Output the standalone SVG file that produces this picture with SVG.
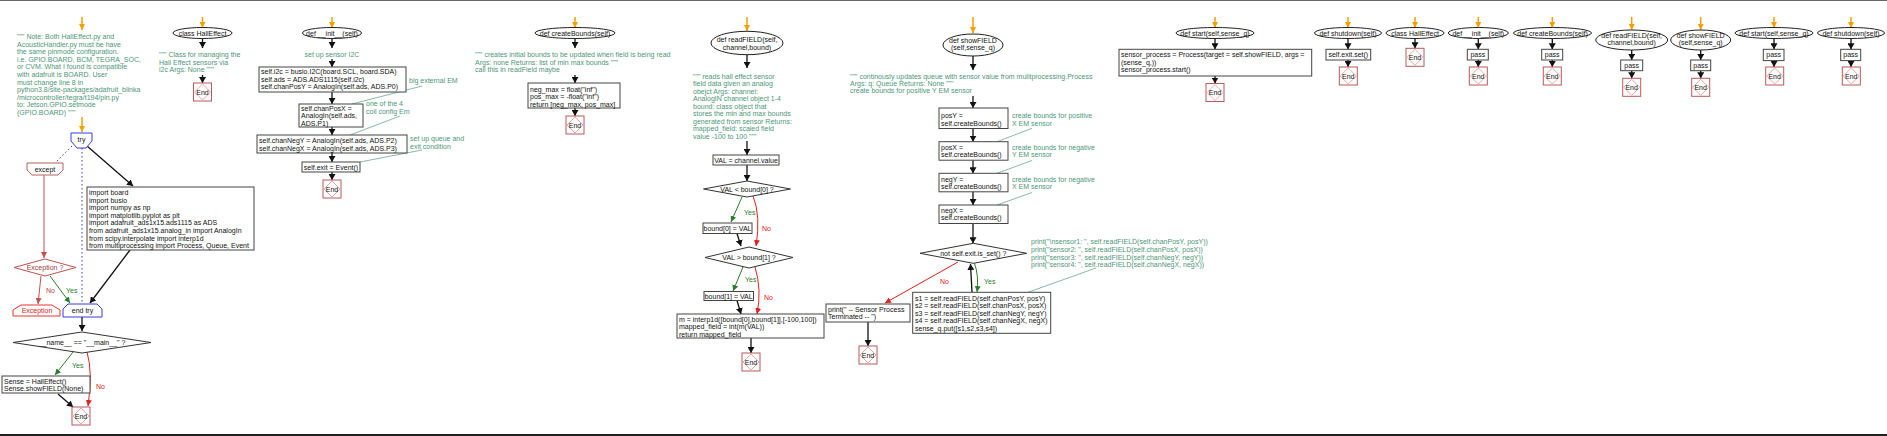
<svg xmlns="http://www.w3.org/2000/svg" width="1887" height="436" viewBox="0 0 1887 436">
<style>
text{font-family:"Liberation Sans",Arial,sans-serif;font-size:7px;fill:#111}
.c{fill:#4e967a}
.m{text-anchor:middle}
.n{fill:#fff;stroke:#444;stroke-width:1}
.el{fill:#fff;stroke:#222;stroke-width:1}
.er{fill:#fff;stroke:#b85a5a;stroke-width:1}
.ed{fill:none;stroke:#e8a8a8;stroke-width:1}
.k{stroke:#111;stroke-width:1.3;fill:none}
.o{stroke:#f5a000;stroke-width:1.5;fill:none}
.g{stroke:#2a7d2a;stroke-width:1;fill:none}
.r{stroke:#e02020;stroke-width:1;fill:none}
.rb{stroke:#c05050;stroke-width:1;fill:none}
.cl{stroke:#6aa890;stroke-width:0.8;fill:none}
.bd{stroke:#3a3ae0;stroke-width:1;stroke-dasharray:1.5,2.5;fill:none}
.gt{fill:#2a7d2a}
.rt{fill:#e02020}
.rbt{fill:#b04848}
</style>
<defs>
<marker id="ab" viewBox="0 0 10 10" refX="10" refY="5" markerWidth="6" markerHeight="7" orient="auto" markerUnits="userSpaceOnUse" preserveAspectRatio="none"><path d="M0,0L10,5L0,10z" fill="#111"/></marker>
<marker id="ao" viewBox="0 0 10 10" refX="10" refY="5" markerWidth="6" markerHeight="6" orient="auto" markerUnits="userSpaceOnUse" preserveAspectRatio="none"><path d="M0,0L10,5L0,10z" fill="#f5a000"/></marker>
<marker id="ag" viewBox="0 0 10 10" refX="10" refY="5" markerWidth="6" markerHeight="6" orient="auto" markerUnits="userSpaceOnUse" preserveAspectRatio="none"><path d="M0,0L10,5L0,10z" fill="#2a7d2a"/></marker>
<marker id="ar" viewBox="0 0 10 10" refX="10" refY="5" markerWidth="6" markerHeight="6" orient="auto" markerUnits="userSpaceOnUse" preserveAspectRatio="none"><path d="M0,0L10,5L0,10z" fill="#e02020"/></marker>
<marker id="arb" viewBox="0 0 10 10" refX="10" refY="5" markerWidth="6" markerHeight="6" orient="auto" markerUnits="userSpaceOnUse" preserveAspectRatio="none"><path d="M0,0L10,5L0,10z" fill="#c05050"/></marker>
</defs>
<rect x="0" y="0" width="1887" height="436" fill="#fff"/>
<line x1="0" y1="0.5" x2="1887" y2="0.5" stroke="#666" stroke-width="1"/>
<line x1="0" y1="435" x2="1887" y2="435" stroke="#222" stroke-width="2"/>

<g id="connectors">
<!-- main -->
<line class="o" x1="82" y1="17" x2="82" y2="30" marker-end="url(#ao)"/>
<line class="o" x1="82" y1="117" x2="82" y2="132" marker-end="url(#ao)"/>
<line class="k" x1="87" y1="146" x2="133" y2="186" marker-end="url(#ab)"/>
<line class="bd" x1="72" y1="146" x2="55" y2="163"/>
<line class="bd" x1="82" y1="148" x2="82" y2="303"/>
<line class="rb" x1="44" y1="175" x2="44" y2="258" marker-end="url(#arb)"/>
<line class="rb" x1="41" y1="276" x2="38" y2="304" marker-end="url(#arb)"/>
<line class="g" x1="50" y1="276" x2="70" y2="303" marker-end="url(#ag)"/>
<line class="k" x1="130" y1="250" x2="90" y2="303" marker-end="url(#ab)"/>
<line class="k" x1="82" y1="317" x2="82" y2="331" marker-end="url(#ab)"/>
<line class="g" x1="73" y1="352" x2="55" y2="375" marker-end="url(#ag)"/>
<path class="r" d="M87,352 Q93,372 88,406" marker-end="url(#ar)"/>
<line class="k" x1="58" y1="394" x2="73" y2="407" marker-end="url(#ab)"/>
<!-- class HallEffect -->
<line class="o" x1="202.5" y1="17" x2="202.5" y2="28" marker-end="url(#ao)"/>
<line class="k" x1="202.5" y1="38.5" x2="202.5" y2="48" marker-end="url(#ab)"/>
<line class="k" x1="202.5" y1="75" x2="202.5" y2="83" marker-end="url(#ab)"/>
<!-- __init__ -->
<line class="o" x1="332" y1="17" x2="332" y2="28" marker-end="url(#ao)"/>
<line class="k" x1="332" y1="38.5" x2="332" y2="48" marker-end="url(#ab)"/>
<line class="k" x1="332" y1="59" x2="332" y2="67" marker-end="url(#ab)"/>
<line class="k" x1="332" y1="92" x2="332" y2="104" marker-end="url(#ab)"/>
<line class="k" x1="332" y1="127" x2="332" y2="135" marker-end="url(#ab)"/>
<line class="k" x1="332" y1="153" x2="332" y2="162" marker-end="url(#ab)"/>
<line class="k" x1="332" y1="172" x2="332" y2="180" marker-end="url(#ab)"/>
<line class="cl" x1="352" y1="104" x2="422" y2="86"/>
<line class="cl" x1="350" y1="135" x2="400" y2="116"/>
<line class="cl" x1="360" y1="162" x2="422" y2="150"/>
<!-- createBounds -->
<line class="o" x1="575" y1="17" x2="575" y2="28" marker-end="url(#ao)"/>
<line class="k" x1="575" y1="38.5" x2="575" y2="48" marker-end="url(#ab)"/>
<line class="k" x1="575" y1="75" x2="575" y2="83" marker-end="url(#ab)"/>
<line class="k" x1="575" y1="108" x2="575" y2="116" marker-end="url(#ab)"/>
<!-- readFIELD -->
<line class="o" x1="747" y1="17" x2="747" y2="31" marker-end="url(#ao)"/>
<line class="k" x1="747" y1="55" x2="747" y2="68" marker-end="url(#ab)"/>
<line class="k" x1="747" y1="141" x2="747" y2="155" marker-end="url(#ab)"/>
<line class="k" x1="747" y1="165" x2="747" y2="181" marker-end="url(#ab)"/>
<line class="g" x1="742" y1="197" x2="731" y2="222" marker-end="url(#ag)"/>
<path class="r" d="M753,196 Q761,216 756,246" marker-end="url(#ar)"/>
<line class="k" x1="737" y1="233.5" x2="741" y2="246" marker-end="url(#ab)"/>
<line class="g" x1="743" y1="267" x2="733" y2="291" marker-end="url(#ag)"/>
<path class="r" d="M755,267 Q762,290 757,314" marker-end="url(#ar)"/>
<line class="k" x1="737" y1="300.5" x2="741" y2="314" marker-end="url(#ab)"/>
<line class="k" x1="751" y1="338" x2="751" y2="353" marker-end="url(#ab)"/>
<!-- showFIELD -->
<line class="o" x1="973" y1="17" x2="973" y2="33" marker-end="url(#ao)"/>
<line class="k" x1="973" y1="56" x2="973" y2="70" marker-end="url(#ab)"/>
<line class="k" x1="973" y1="96" x2="973" y2="108" marker-end="url(#ab)"/>
<line class="k" x1="973" y1="128.5" x2="973" y2="141.7" marker-end="url(#ab)"/>
<line class="k" x1="973" y1="160.2" x2="973" y2="173.3" marker-end="url(#ab)"/>
<line class="k" x1="973" y1="191.8" x2="973" y2="205" marker-end="url(#ab)"/>
<line class="k" x1="973" y1="223.5" x2="973" y2="243.3" marker-end="url(#ab)"/>
<line class="cl" x1="997" y1="141.7" x2="1032" y2="128.3"/>
<line class="cl" x1="997" y1="173.3" x2="1032" y2="160.5"/>
<line class="cl" x1="997" y1="205" x2="1032" y2="192.5"/>
<path class="g" d="M974.5,263.3 Q979,276 977,292" marker-end="url(#ag)"/>
<line class="k" x1="972" y1="292" x2="970.5" y2="264" marker-end="url(#ab)"/>
<line class="r" x1="958" y1="262" x2="885" y2="303" marker-end="url(#ar)"/>
<line class="k" x1="868" y1="322" x2="868" y2="346" marker-end="url(#ab)"/>
<line class="cl" x1="1028" y1="292.3" x2="1096" y2="268"/>
<!-- start -->
<line class="o" x1="1215" y1="17" x2="1215" y2="28" marker-end="url(#ao)"/>
<line class="k" x1="1215" y1="38.5" x2="1215" y2="49.3" marker-end="url(#ab)"/>
<line class="k" x1="1215" y1="76" x2="1215" y2="83.5" marker-end="url(#ab)"/>
<!-- small -->
<line class="o" x1="1348" y1="17" x2="1348" y2="28" marker-end="url(#ao)"/>
<line class="k" x1="1348" y1="38.5" x2="1348" y2="49.3" marker-end="url(#ab)"/>
<line class="k" x1="1348" y1="60" x2="1348" y2="67" marker-end="url(#ab)"/>
<line class="o" x1="1415" y1="17" x2="1415" y2="28" marker-end="url(#ao)"/>
<line class="k" x1="1415" y1="38.5" x2="1415" y2="48.3" marker-end="url(#ab)"/>
<line class="o" x1="1478.3" y1="17" x2="1478.3" y2="28" marker-end="url(#ao)"/>
<line class="k" x1="1478.3" y1="38.5" x2="1478.3" y2="49.3" marker-end="url(#ab)"/>
<line class="k" x1="1478.3" y1="60" x2="1478.3" y2="67" marker-end="url(#ab)"/>
<line class="o" x1="1552.3" y1="17" x2="1552.3" y2="28" marker-end="url(#ao)"/>
<line class="k" x1="1552.3" y1="38.5" x2="1552.3" y2="49.3" marker-end="url(#ab)"/>
<line class="k" x1="1552.3" y1="60" x2="1552.3" y2="67" marker-end="url(#ab)"/>
<line class="o" x1="1631.7" y1="17" x2="1631.7" y2="30" marker-end="url(#ao)"/>
<line class="k" x1="1631.7" y1="50" x2="1631.7" y2="60" marker-end="url(#ab)"/>
<line class="k" x1="1631.7" y1="70.7" x2="1631.7" y2="78.3" marker-end="url(#ab)"/>
<line class="o" x1="1700.7" y1="17" x2="1700.7" y2="30" marker-end="url(#ao)"/>
<line class="k" x1="1700.7" y1="50" x2="1700.7" y2="60" marker-end="url(#ab)"/>
<line class="k" x1="1700.7" y1="70.7" x2="1700.7" y2="78.3" marker-end="url(#ab)"/>
<line class="o" x1="1774" y1="17" x2="1774" y2="28" marker-end="url(#ao)"/>
<line class="k" x1="1774" y1="38.5" x2="1774" y2="49.3" marker-end="url(#ab)"/>
<line class="k" x1="1774" y1="60.6" x2="1774" y2="67" marker-end="url(#ab)"/>
<line class="o" x1="1851" y1="17" x2="1851" y2="28" marker-end="url(#ao)"/>
<line class="k" x1="1851" y1="38.5" x2="1851" y2="49.3" marker-end="url(#ab)"/>
<line class="k" x1="1851" y1="60.6" x2="1851" y2="67" marker-end="url(#ab)"/>
</g>

<!-- main module -->
<g id="note">
<text class="c" x="17" y="39">""" Note: Both HallEffect.py and</text>
<text class="c" x="17" y="46.6">AcousticHandler.py must be have</text>
<text class="c" x="17" y="54.2">the same pinmode configuration.</text>
<text class="c" x="17" y="61.8">i.e. GPIO.BOARD, BCM, TEGRA_SOC,</text>
<text class="c" x="17" y="69.4">or CVM. What I found is compatible</text>
<text class="c" x="17" y="77">with adafruit is BOARD. User</text>
<text class="c" x="17" y="84.6">must change line 8 in</text>
<text class="c" x="17" y="92.2">python3.8/site-packages/adafruit_blinka</text>
<text class="c" x="17" y="99.8">/microcontroller/tegra/t194/pin.py</text>
<text class="c" x="17" y="107.4">to: Jetson.GPIO.setmode</text>
<text class="c" x="17" y="115">(GPIO.BOARD) """</text>
</g>
<g id="try">
<polygon points="71,133 92,133 92,141 86,148 77,148 71,141" fill="#fff" stroke="#3a3ae0"/>
<text class="m" x="81.5" y="142">try</text>
</g>
<g id="except">
<polygon points="27,163 63,163 63,170 58,175 32,175 27,170" fill="#fff" stroke="#b86060"/>
<text class="m" x="45" y="171.5">except</text>
</g>
<g id="imports">
<rect class="n" x="87" y="187" width="167" height="63"/>
<text x="89" y="195">import board</text>
<text x="89" y="202.6">import busio</text>
<text x="89" y="210.2">import numpy as np</text>
<text x="89" y="217.8">import matplotlib.pyplot as plt</text>
<text x="89" y="225.4">import adafruit_ads1x15.ads1115 as ADS</text>
<text x="89" y="233">from adafruit_ads1x15.analog_in import AnalogIn</text>
<text x="89" y="240.6">from scipy.interpolate import interp1d</text>
<text x="89" y="248.2">from multiprocessing import Process, Queue, Event</text>
</g>
<g id="exception-check">
<polygon points="14,267.5 45,259 76,267.5 45,276" fill="#fff" stroke="#c05050"/>
<text class="m" x="45" y="270" fill="#9a4040" style="fill:#9a4040">Exception ?</text>
<text class="rbt" x="46" y="292.5">No</text>
<text class="gt" x="66" y="292.5">Yes</text>
</g>
<g id="exception">
<polygon points="13,316 13,310 21,305 52,305 60,310 60,316" fill="#fff" stroke="#ee3333"/>
<text class="m" x="37" y="313" style="fill:#e02020">Exception</text>
</g>
<g id="endtry">
<polygon points="63,317 63,309 68,304 97,304 102,309 102,317" fill="#fff" stroke="#3a3ae0"/>
<text class="m" x="82.5" y="313">end try</text>
</g>
<g id="main-check">
<polygon points="13,342.5 82,332 151,342.5 82,353" fill="#fff" stroke="#333"/>
<text class="m" x="82" y="345">__name__ == "__main__" ?</text>
<text class="gt" x="72" y="367.5">Yes</text>
<text class="rt" x="96" y="388.5">No</text>
</g>
<g id="sense">
<rect class="n" x="2" y="376" width="88" height="17"/>
<text x="4" y="383.5">Sense = HallEffect()</text>
<text x="4" y="391">Sense.showFIELD(None)</text>
</g>
<g id="end-main">
<rect class="er" x="72" y="407" width="18" height="18"/>
<polygon class="ed" points="81,408 89,416 81,424 73,416"/>
<text class="m" x="81" y="418.5">End</text>
</g>

<!-- class HallEffect -->
<g id="class-halleffect">
<ellipse class="el" cx="202.5" cy="33" rx="29.5" ry="5.5"/>
<text class="m" x="202.5" y="35.5">class HallEffect</text>
</g>
<g id="class-doc">
<text class="c" x="159" y="57">""" Class for managing the</text>
<text class="c" x="159" y="64.7">Hall Effect sensors via</text>
<text class="c" x="159" y="72.4">i2c Args: None """</text>
</g>
<g id="end-class">
<rect class="er" x="193.5" y="83" width="18" height="18"/>
<polygon class="ed" points="202.5,84 210.5,92 202.5,100 194.5,92"/>
<text class="m" x="202.5" y="94.5">End</text>
</g>

<!-- __init__ -->
<g id="init">
<ellipse class="el" cx="332" cy="33" rx="29.5" ry="5.5"/>
<text class="m" x="332" y="35.5">def __init__(self)</text>
</g>
<g id="init-comment">
<text class="c m" x="332" y="56.8">set up sensor I2C</text>
</g>
<g id="init-box1">
<rect class="n" x="259" y="67" width="147" height="25"/>
<text x="261" y="74.2">self.i2c = busio.I2C(board.SCL, board.SDA)</text>
<text x="261" y="81.8">self.ads = ADS.ADS1115(self.i2c)</text>
<text x="261" y="89.4">self.chanPosY = AnalogIn(self.ads, ADS.P0)</text>
</g>
<text class="c" x="409" y="83">big external EM</text>
<g id="init-box2">
<rect class="n" x="299" y="104" width="64" height="23"/>
<text x="301" y="111">self.chanPosX =</text>
<text x="301" y="118.4">AnalogIn(self.ads,</text>
<text x="301" y="125.8">ADS.P1)</text>
</g>
<text class="c" x="366" y="106">one of the 4</text>
<text class="c" x="366" y="114">coil config Em</text>
<g id="init-box3">
<rect class="n" x="257" y="135" width="150" height="18"/>
<text x="259" y="143">self.chanNegY = AnalogIn(self.ads, ADS.P2)</text>
<text x="259" y="150.6">self.chanNegX = AnalogIn(self.ads, ADS.P3)</text>
</g>
<text class="c" x="410" y="141">set up queue and</text>
<text class="c" x="410" y="149">exit condition</text>
<g id="init-box4">
<rect class="n" x="302" y="162" width="58" height="10"/>
<text class="m" x="331" y="169.5">self.exit = Event()</text>
</g>
<g id="end-init">
<rect class="er" x="323" y="180" width="18" height="18"/>
<polygon class="ed" points="332,181 340,189 332,197 324,189"/>
<text class="m" x="332" y="191.5">End</text>
</g>

<!-- createBounds -->
<g id="createbounds">
<ellipse class="el" cx="575" cy="33" rx="40" ry="5.5"/>
<text class="m" x="575" y="35.5">def createBounds(self)</text>
</g>
<g id="createbounds-doc">
<text class="c" x="475" y="57">""" creates initial bounds to be updated when field is being read</text>
<text class="c" x="475" y="64.6">Args: none Returns: list of min max bounds """</text>
<text class="c" x="475" y="72.4">call this in readField maybe</text>
</g>
<g id="createbounds-box">
<rect class="n" x="528" y="83" width="92" height="25"/>
<text x="530" y="91.5">neg_max = float("inf")</text>
<text x="530" y="99">pos_max = -float("inf")</text>
<text x="530" y="106.5">return [neg_max, pos_max]</text>
</g>
<g id="end-createbounds">
<rect class="er" x="566" y="116" width="18" height="18"/>
<polygon class="ed" points="575,117 583,125 575,133 567,125"/>
<text class="m" x="575" y="127.5">End</text>
</g>

<!-- readFIELD -->
<g id="readfield">
<ellipse class="el" cx="747" cy="43" rx="36" ry="11.7"/>
<text class="m" x="747" y="42.2">def readFIELD(self,</text>
<text class="m" x="747" y="50">channel,bound)</text>
</g>
<g id="readfield-doc">
<text class="c" x="693" y="78.5">""" reads hall effect sensor</text>
<text class="c" x="693" y="86">field data given an analog</text>
<text class="c" x="693" y="93.6">obejct Args: channel:</text>
<text class="c" x="693" y="101.2">AnalogIN channel object 1-4</text>
<text class="c" x="693" y="108.7">bound: class object that</text>
<text class="c" x="693" y="116.3">stores the min and max bounds</text>
<text class="c" x="693" y="123.8">generated from sensor Returns:</text>
<text class="c" x="693" y="131.4">mapped_field: scaled field</text>
<text class="c" x="693" y="139">value -100 to 100 """</text>
</g>
<g id="val">
<rect class="n" x="713" y="155" width="66" height="10"/>
<text class="m" x="746" y="162.5">VAL = channel.value</text>
</g>
<g id="check-lt">
<polygon points="703.5,189 747,181 790.5,189 747,197" fill="#fff" stroke="#333"/>
<text class="m" x="747" y="191.5">VAL &lt; bound[0] ?</text>
<text class="gt" x="744" y="214.5">Yes</text>
<text class="rt" x="762" y="230.5">No</text>
</g>
<g id="set-b0">
<rect class="n" x="703" y="223" width="49" height="10.5"/>
<text class="m" x="727.5" y="230.5">bound[0] = VAL</text>
</g>
<g id="check-gt">
<polygon points="705,257.5 749,247 793,257.5 749,268" fill="#fff" stroke="#333"/>
<text class="m" x="749" y="260">VAL &gt; bound[1] ?</text>
<text class="gt" x="745" y="281.5">Yes</text>
<text class="rt" x="764" y="299.5">No</text>
</g>
<g id="set-b1">
<rect class="n" x="704" y="291.5" width="49.5" height="9"/>
<text class="m" x="728.7" y="298.5">bound[1] = VAL</text>
</g>
<g id="interp">
<rect class="n" x="677" y="314" width="147" height="24"/>
<text x="679" y="321.5">m = interp1d([bound[0],bound[1]],[-100,100])</text>
<text x="679" y="329">mapped_field = int(m(VAL))</text>
<text x="679" y="336.5">return mapped_field</text>
</g>
<g id="end-readfield">
<rect class="er" x="742" y="353" width="18" height="18"/>
<polygon class="ed" points="751,354 759,362 751,370 743,362"/>
<text class="m" x="751" y="364.5">End</text>
</g>

<!-- showFIELD -->
<g id="showfield">
<ellipse class="el" cx="973" cy="45" rx="30" ry="11"/>
<text class="m" x="973" y="42.8">def showFIELD</text>
<text class="m" x="973" y="50.2">(self,sense_q)</text>
</g>
<g id="showfield-doc">
<text class="c" x="850" y="78.5">""" continously updates queue with sensor value from mulitprocessing.Process</text>
<text class="c" x="850" y="85.8">Args: q: Queue Returns: None """</text>
<text class="c" x="850" y="93.2">create bounds for positive Y EM sensor</text>
</g>
<g id="posy">
<rect class="n" x="939" y="108" width="69" height="20.5"/>
<text x="941" y="118.2">posY =</text>
<text x="941" y="125.5">self.createBounds()</text>
</g>
<text class="c" x="1012" y="118.2">create bounds for positive</text>
<text class="c" x="1012" y="125.5">X EM sensor</text>
<g id="posx">
<rect class="n" x="939" y="141.7" width="69" height="18.5"/>
<text x="941" y="149.5">posX =</text>
<text x="941" y="156.8">self.createBounds()</text>
</g>
<text class="c" x="1012" y="149.5">create bounds for negative</text>
<text class="c" x="1012" y="156.8">Y EM sensor</text>
<g id="negy">
<rect class="n" x="939" y="173.3" width="69" height="18.5"/>
<text x="941" y="181.5">negY =</text>
<text x="941" y="188.8">self.createBounds()</text>
</g>
<text class="c" x="1012" y="181.5">create bounds for negative</text>
<text class="c" x="1012" y="188.8">X EM sensor</text>
<g id="negx">
<rect class="n" x="939" y="205" width="69" height="18.5"/>
<text x="941" y="213">negX =</text>
<text x="941" y="220.3">self.createBounds()</text>
</g>
<g id="loop-check">
<polygon points="920,253.3 973.3,243.3 1026.7,253.3 973.3,263.3" fill="#fff" stroke="#333"/>
<text class="m" x="973.3" y="256">not self.exit.is_set() ?</text>
<text class="gt" x="984" y="283.5">Yes</text>
<text class="rt" x="940" y="283.5">No</text>
</g>
<g id="terminated">
<rect class="n" x="826" y="304" width="84" height="18"/>
<text x="828" y="311.8">print(" -- Sensor Process</text>
<text x="828" y="319.4">Terminated -- ")</text>
</g>
<g id="end-showfield">
<rect class="er" x="859" y="346" width="18" height="18"/>
<polygon class="ed" points="868,347 876,355 868,363 860,355"/>
<text class="m" x="868" y="357.5">End</text>
</g>
<g id="readall">
<rect class="n" x="912.7" y="292.3" width="138" height="41"/>
<text x="915" y="300.8">s1 = self.readFIELD(self.chanPosY, posY)</text>
<text x="915" y="308.2">s2 = self.readFIELD(self.chanPosX, posX)</text>
<text x="915" y="315.8">s3 = self.readFIELD(self.chanNegY, negY)</text>
<text x="915" y="323.2">s4 = self.readFIELD(self.chanNegX, negX)</text>
<text x="915" y="330.5">sense_q.put([s1,s2,s3,s4])</text>
</g>
<g id="print-comments">
<text class="c" x="1031" y="244.2">print("\nsensor1: ", self.readFIELD(self.chanPosY, posY))</text>
<text class="c" x="1031" y="251.8">print("sensor2: ", self.readFIELD(self.chanPosX, posX))</text>
<text class="c" x="1031" y="259.5">print("sensor3: ", self.readFIELD(self.chanNegY, negY))</text>
<text class="c" x="1031" y="266.8">print("sensor4: ", self.readFIELD(self.chanNegX, negX))</text>
</g>

<!-- start -->
<g id="start">
<ellipse class="el" cx="1215" cy="33" rx="39" ry="5.5"/>
<text class="m" x="1215" y="35.5">def start(self,sense_q)</text>
</g>
<g id="start-box">
<rect class="n" x="1119" y="49.3" width="192.7" height="26.7"/>
<text x="1121" y="56.8">sensor_process = Process(target = self.showFIELD, args =</text>
<text x="1121" y="64.5">(sense_q,))</text>
<text x="1121" y="72.2">sensor_process.start()</text>
</g>
<g id="end-start">
<rect class="er" x="1206" y="83.5" width="18" height="18"/>
<polygon class="ed" points="1215,84.5 1223,92.5 1215,100.5 1207,92.5"/>
<text class="m" x="1215" y="95">End</text>
</g>

<!-- shutdown -->
<g id="shutdown">
<ellipse class="el" cx="1348" cy="33" rx="33.5" ry="5.5"/>
<text class="m" x="1348" y="35.5">def shutdown(self)</text>
</g>
<g id="shutdown-box">
<rect class="n" x="1326" y="49.3" width="44.7" height="10.7"/>
<text class="m" x="1348.3" y="57">self.exit.set()</text>
</g>
<g id="end-shutdown">
<rect class="er" x="1339.3" y="67" width="18" height="18"/>
<polygon class="ed" points="1348.3,68 1356.3,76 1348.3,84 1340.3,76"/>
<text class="m" x="1348.3" y="78.5">End</text>
</g>

<!-- small stubs -->
<g id="class-halleffect-2">
<ellipse class="el" cx="1415" cy="33" rx="29" ry="5.5"/>
<text class="m" x="1415" y="35.5">class HallEffect</text>
</g>
<g id="end-class-2">
<rect class="er" x="1406" y="48.3" width="18" height="18"/>
<polygon class="ed" points="1415,49.3 1423,57.3 1415,65.3 1407,57.3"/>
<text class="m" x="1415" y="59.8">End</text>
</g>

<g id="init-2">
<ellipse class="el" cx="1478.3" cy="33" rx="30" ry="5.5"/>
<text class="m" x="1478.3" y="35.5">def __init__(self)</text>
</g>
<g id="init-2-pass">
<rect class="n" x="1467.3" y="49.3" width="21" height="10.7"/>
<text class="m" x="1477.8" y="57">pass</text>
</g>
<g id="end-init-2">
<rect class="er" x="1469.3" y="67" width="18" height="18"/>
<polygon class="ed" points="1478.3,68 1486.3,76 1478.3,84 1470.3,76"/>
<text class="m" x="1478.3" y="78.5">End</text>
</g>

<g id="createbounds-2">
<ellipse class="el" cx="1552.5" cy="33" rx="39" ry="5.5"/>
<text class="m" x="1552.5" y="35.5">def createBounds(self)</text>
</g>
<g id="createbounds-2-pass">
<rect class="n" x="1541.7" y="49.3" width="21" height="10.7"/>
<text class="m" x="1552.2" y="57">pass</text>
</g>
<g id="end-createbounds-2">
<rect class="er" x="1543.3" y="67" width="18" height="18"/>
<polygon class="ed" points="1552.3,68 1560.3,76 1552.3,84 1544.3,76"/>
<text class="m" x="1552.3" y="78.5">End</text>
</g>

<g id="readfield-2">
<ellipse class="el" cx="1631.7" cy="40" rx="36" ry="10"/>
<text class="m" x="1631.7" y="37.5">def readFIELD(self,</text>
<text class="m" x="1631.7" y="45.2">channel,bound)</text>
</g>
<g id="readfield-2-pass">
<rect class="n" x="1620.7" y="60" width="22" height="10.7"/>
<text class="m" x="1631.7" y="67.7">pass</text>
</g>
<g id="end-readfield-2">
<rect class="er" x="1622.7" y="78.3" width="18" height="18"/>
<polygon class="ed" points="1631.7,79.3 1639.7,87.3 1631.7,95.3 1623.7,87.3"/>
<text class="m" x="1631.7" y="89.8">End</text>
</g>

<g id="showfield-2">
<ellipse class="el" cx="1700.7" cy="40" rx="30" ry="10"/>
<text class="m" x="1700.7" y="37.5">def showFIELD</text>
<text class="m" x="1700.7" y="45.2">(self,sense_q)</text>
</g>
<g id="showfield-2-pass">
<rect class="n" x="1690.7" y="60" width="20" height="10.7"/>
<text class="m" x="1700.7" y="67.7">pass</text>
</g>
<g id="end-showfield-2">
<rect class="er" x="1691.7" y="78.3" width="18" height="18"/>
<polygon class="ed" points="1700.7,79.3 1708.7,87.3 1700.7,95.3 1692.7,87.3"/>
<text class="m" x="1700.7" y="89.8">End</text>
</g>

<g id="start-2">
<ellipse class="el" cx="1774" cy="33" rx="39" ry="5.5"/>
<text class="m" x="1774" y="35.5">def start(self,sense_q)</text>
</g>
<g id="start-2-pass">
<rect class="n" x="1763.3" y="49.3" width="20.7" height="11.3"/>
<text class="m" x="1773.7" y="57.3">pass</text>
</g>
<g id="end-start-2">
<rect class="er" x="1765.7" y="67" width="18" height="18"/>
<polygon class="ed" points="1774.7,68 1782.7,76 1774.7,84 1766.7,76"/>
<text class="m" x="1774.7" y="78.5">End</text>
</g>

<g id="shutdown-2">
<ellipse class="el" cx="1851" cy="33" rx="33.5" ry="5.5"/>
<text class="m" x="1851" y="35.5">def shutdown(self)</text>
</g>
<g id="shutdown-2-pass">
<rect class="n" x="1840.7" y="49.3" width="20" height="11.3"/>
<text class="m" x="1850.7" y="57.3">pass</text>
</g>
<g id="end-shutdown-2">
<rect class="er" x="1842.3" y="67" width="18" height="18"/>
<polygon class="ed" points="1851.3,68 1859.3,76 1851.3,84 1843.3,76"/>
<text class="m" x="1851.3" y="78.5">End</text>
</g>
</svg>
